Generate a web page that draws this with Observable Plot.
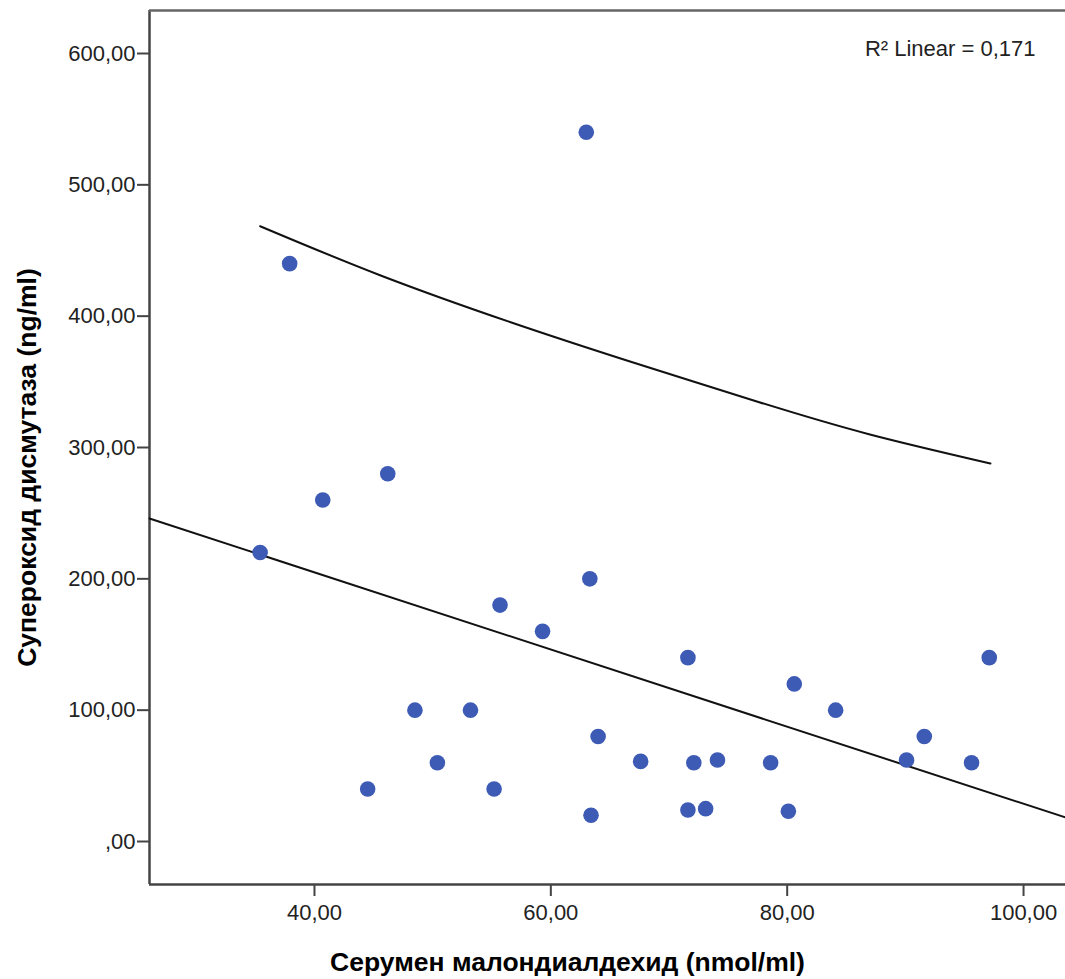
<!DOCTYPE html>
<html>
<head>
<meta charset="utf-8">
<script src="https://cdn.jsdelivr.net/npm/d3@7"></script>
<script src="https://cdn.jsdelivr.net/npm/@observablehq/plot@0.6"></script>
<style>
  html, body { margin: 0; padding: 0; background: #fff; }
  #chart svg { display: block; }
</style>
</head>
<body>
<div id="chart"></div>
<script>
// Data
const mda = [35.4, 37.9, 40.7, 46.2, 44.5, 48.5, 50.4, 53.2, 55.2, 55.7, 59.3, 63.0, 63.3, 63.4, 64.0,
             67.6, 71.6, 71.6, 72.1, 73.1, 74.1, 78.6, 80.1, 80.6, 84.1, 90.1, 91.6, 95.6, 97.1];
const sod = [220, 440, 260, 280, 40, 100, 60, 100, 40, 180, 160, 540, 200, 20, 80,
             61, 140, 24, 60, 25, 62, 60, 23, 120, 100, 62, 80, 60, 140];

// Linear fit line (endpoints at the frame edges)
const fitX = [26.04, 103.55];
const fitY = [245.9, 18.3];

// Upper curve, sampled along its length
const curveX = [35.4, 45.6, 56.6, 66.7, 77.7, 87.0, 97.2];
const curveY = [468.5, 431.0, 395.4, 365.5, 334.3, 309.9, 287.8];

const xTicks = [40, 60, 80, 100];
const yTicks = [0, 100, 200, 300, 400, 500, 600];
const xDomain = [26.04, 103.55];
const yDomain = [-32.74, 632.74];

const xTitle = "Серумен малондиалдехид (nmol/ml)";
const yTitle = "Супероксид дисмутаза (ng/ml)";
const r2Label = "R² Linear = 0,171";

const points = mda.map((x, i) => ({x, y: sod[i]}));
const fit = fitX.map((x, i) => ({x, y: fitY[i]}));
const curve = curveX.map((x, i) => ({x, y: curveY[i]}));

const fmt = d => d === 0 ? ",00" : d.toFixed(2).replace(".", ",");
const axisColor = "#444";

const chart = Plot.plot({
  width: 1065,
  height: 979,
  marginLeft: 149,
  marginRight: 0,
  marginTop: 10,
  marginBottom: 95,
  style: {fontFamily: "Liberation Sans, Arial, sans-serif", fontSize: "22px", color: "#222", background: "#fff"},
  x: {domain: xDomain, label: null},
  y: {domain: yDomain, label: null},
  marks: [
    Plot.axisX({ticks: xTicks, tickFormat: fmt, tickSize: 12, tickPadding: 8, stroke: axisColor, strokeWidth: 2, fontSize: 22, fill: "#222"}),
    Plot.axisY({ticks: yTicks, tickFormat: fmt, tickSize: 12, tickPadding: 2, stroke: axisColor, strokeWidth: 2, fontSize: 22, fill: "#222"}),
    Plot.ruleX([xDomain[0]], {stroke: axisColor, strokeWidth: 2.5}),
    Plot.ruleY([yDomain[0]], {stroke: axisColor, strokeWidth: 2.5}),
    Plot.ruleY([yDomain[1]], {stroke: "#666", strokeWidth: 2.5}),
    Plot.line(fit, {x: "x", y: "y", stroke: "#111", strokeWidth: 2}),
    Plot.line(curve, {x: "x", y: "y", stroke: "#111", strokeWidth: 2, curve: "natural"}),
    Plot.dot(points, {x: "x", y: "y", r: 7.8, fill: "#3d5bb5", stroke: "none"}),
    Plot.text([r2Label], {frameAnchor: "top-right", dx: -30, dy: 38, textAnchor: "end", lineAnchor: "middle", fontSize: 22, fill: "#222"}),
    Plot.text([xTitle], {frameAnchor: "bottom", dx: -40, dy: 78, textAnchor: "middle", lineAnchor: "middle", fontSize: 26.5, fontWeight: "bold", fill: "#000"}),
    Plot.text([yTitle], {frameAnchor: "left", dx: -122, dy: 20, rotate: -90, textAnchor: "middle", lineAnchor: "middle", fontSize: 26.5, fontWeight: "bold", fill: "#000"})
  ]
});
document.getElementById("chart").appendChild(chart);
</script>
</body>
</html>
